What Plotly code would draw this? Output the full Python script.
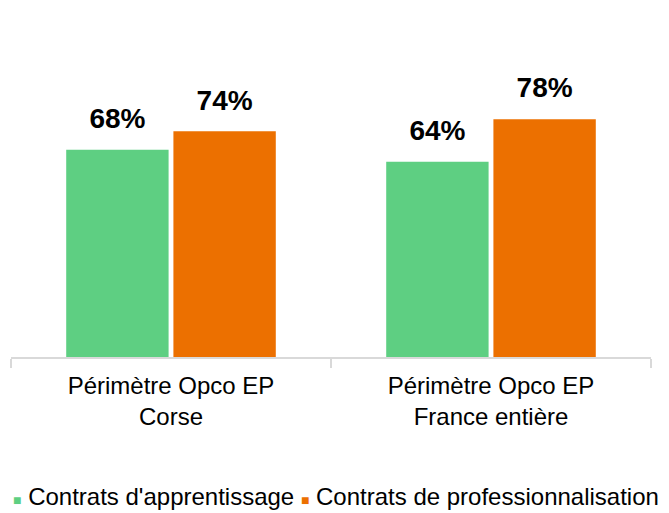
import plotly.graph_objects as go

categories = ["Périmètre Opco EP<br>Corse", "Périmètre Opco EP<br>France entière"]
apprentissage = [68, 64]
professionnalisation = [74, 78]
series_names = ["Contrats d'apprentissage", "Contrats de professionnalisation"]
colors = ["#5ECF82", "#EC7000"]

FONT = "Liberation Sans, Arial"
fig = go.Figure()
for i, (name, vals, col) in enumerate(zip(series_names, [apprentissage, professionnalisation], colors)):
    fig.add_trace(go.Bar(
        x=categories, y=vals, name=name, marker_color=col,
        offsetgroup=str(i), marker_line_width=0, showlegend=False,
    ))
for i, vals in enumerate([apprentissage, professionnalisation]):
    fig.add_trace(go.Scatter(
        x=categories, y=vals, mode="markers+text", offsetgroup=str(i),
        marker=dict(size=22, opacity=0), showlegend=False, hoverinfo="skip",
        text=[f"<b>{v}%</b>" for v in vals], textposition="top center",
        textfont=dict(family=FONT, size=28, color="#000000"), cliponaxis=False,
    ))

legend_text = " ".join(
    f"<span style='color:{c};font-size:14px'>■</span> {n}"
    for n, c in zip(series_names, colors)
)
fig.add_annotation(
    text=legend_text, xref="paper", yref="paper", x=0.508, y=-0.403,
    xanchor="center", yanchor="middle", showarrow=False,
    font=dict(family=FONT, size=24, color="#000000"),
)

fig.update_layout(
    width=661, height=505,
    margin=dict(l=3, r=18, t=2, b=156, autoexpand=False),
    paper_bgcolor="white", plot_bgcolor="white",
    barmode="group", bargap=0.33, bargroupgap=0.045,
    scattermode="group", scattergap=0.33,
    font=dict(family=FONT, size=24, color="#000000"),
    showlegend=False,
    xaxis=dict(showline=True, linecolor="#D9D9D9", linewidth=2,
               ticks="outside", tickson="boundaries", ticklen=9, tickcolor="#D9D9D9",
               tickwidth=2, tickfont=dict(size=24), range=[-0.5, 1.5], automargin=False,
               ticklabelstandoff=6),
    yaxis=dict(range=[0, 113.8], visible=False),
)
fig.write_html("out.html")
